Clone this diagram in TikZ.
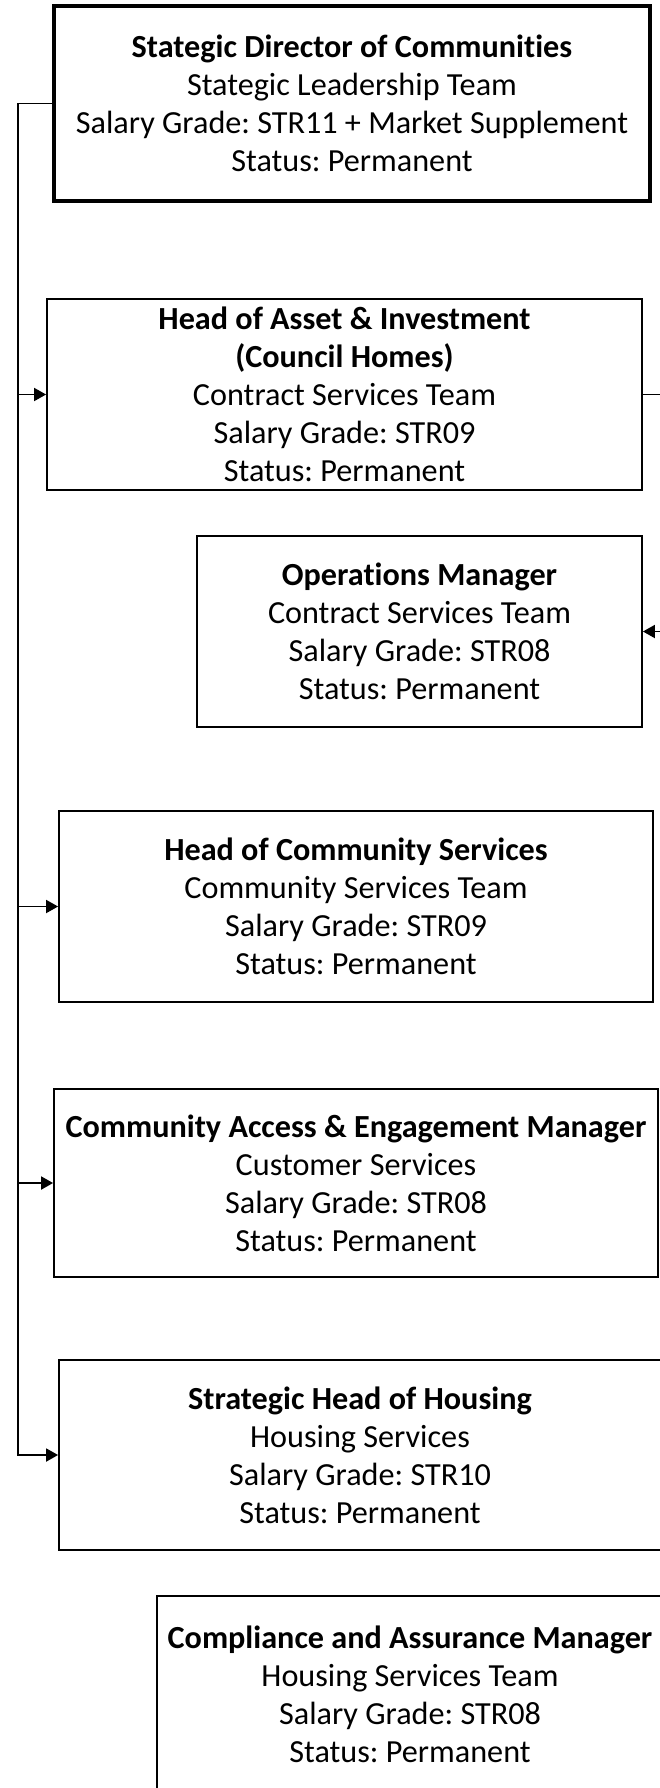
\documentclass[tikz,border=0pt]{standalone}
\usepackage{fontspec}
\setmainfont{Carlito}[Ligatures=NoCommon]
\usetikzlibrary{arrows.meta}
\begin{document}
\frenchspacing
\begin{tikzpicture}[x=1pt,y=-1pt,
  post/.style={draw, line width=1.8pt, align=center, inner sep=0pt,
    font=\fontsize{32.2}{38}\selectfont, minimum height=191pt},
  link/.style={line width=1.8pt},
  arr/.style={link, -{Triangle[length=12pt,width=13pt]}}]
\useasboundingbox (0,0) rectangle (659,1788);
\node[post, line width=3.2pt, minimum width=596pt, minimum height=195pt] (dir) at (352,103.5)
  {\textbf{Stategic Director of Communities}\\Stategic Leadership Team\\Salary Grade: STR11 + Market Supplement\\Status: Permanent};
\node[post, minimum width=595pt] (asset) at (344.5,394.5)
  {\textbf{Head of Asset \& Investment}\\\textbf{(Council Homes)}\\Contract Services Team\\Salary Grade: STR09\\Status: Permanent};
\node[post, minimum width=445pt] (ops) at (419.5,631.5)
  {\textbf{Operations Manager}\\Contract Services Team\\Salary Grade: STR08\\Status: Permanent};
\node[post, minimum width=594pt] (comm) at (356,906.5)
  {\textbf{Head of Community Services}\\Community Services Team\\Salary Grade: STR09\\Status: Permanent};
\node[post, minimum width=604pt, minimum height=188pt] (cae) at (356,1183)
  {\textbf{Community Access \& Engagement Manager}\\Customer Services\\Salary Grade: STR08\\Status: Permanent};
\node[post, minimum width=602pt, minimum height=190pt] (hsg) at (360,1455)
  {\textbf{Strategic Head of Housing}\\Housing Services\\Salary Grade: STR10\\Status: Permanent};
\node[post, minimum width=506pt, minimum height=196pt] (comp) at (410,1694)
  {\textbf{Compliance and Assurance Manager}\\Housing Services Team\\Salary Grade: STR08\\Status: Permanent};
\coordinate (bus) at (18,0);
\coordinate (offr) at (666,0);
\draw[arr] (dir.west) -| (bus |- hsg.west) -- (hsg.west);
\draw[arr] (bus |- asset.west) -- (asset.west);
\draw[arr] (bus |- comm.west) -- (comm.west);
\draw[arr] (bus |- cae.west) -- (cae.west);
\draw[link] (asset.east) -- (offr |- asset.east);
\draw[arr] (offr |- ops.east) -- (ops.east);
\end{tikzpicture}
\end{document}
